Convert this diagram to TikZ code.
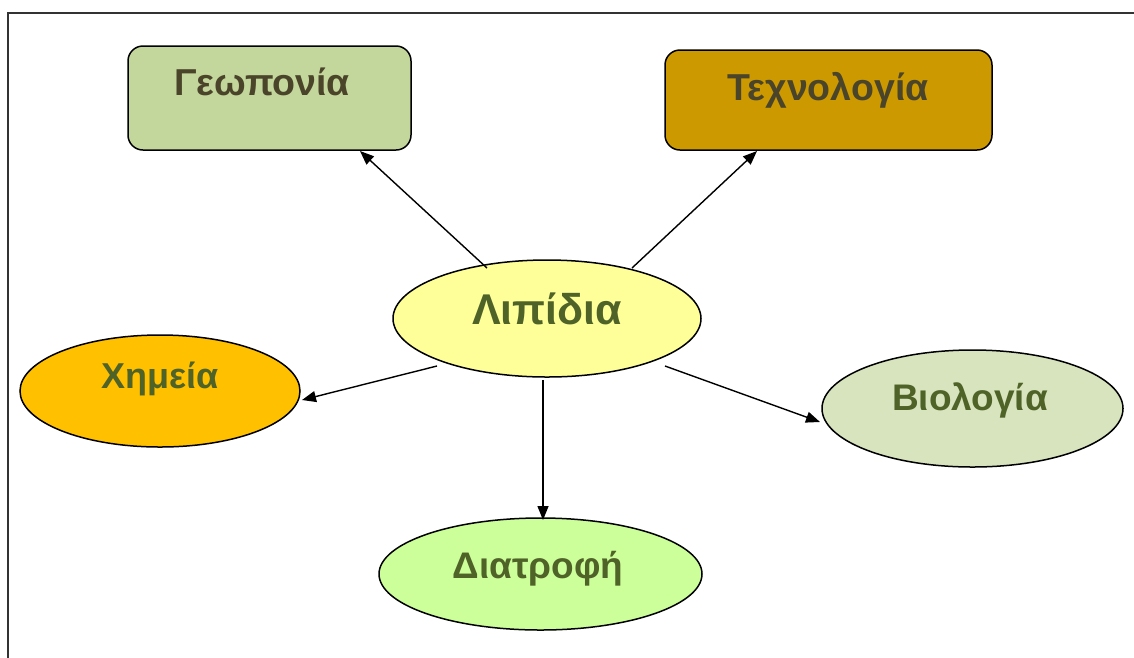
\documentclass[tikz,border=0pt]{standalone}
\usepackage{fontspec}
\setmainfont{Liberation Sans}
\usetikzlibrary{shapes.geometric,arrows.meta}
\definecolor{boxtext}{HTML}{4A452A}
\definecolor{olivetext}{HTML}{4F6228}
\definecolor{geofill}{HTML}{C3D69B}
\definecolor{techfill}{HTML}{CC9900}
\definecolor{lipfill}{HTML}{FFFF99}
\definecolor{chemfill}{HTML}{FFC000}
\definecolor{biofill}{HTML}{D7E4BD}
\definecolor{dietfill}{HTML}{CCFF99}
\definecolor{framecol}{HTML}{333333}
\tikzset{
  topicbox/.style={draw=black, line width=1.5pt, rounded corners=15pt, inner sep=0pt},
  topicoval/.style={draw=black, ellipse, line width=1.5pt, inner sep=0pt},
  boxlabel/.style={anchor=base, text=boxtext, font=\bfseries\fontsize{37.5}{42}\selectfont},
  ovallabel/.style={anchor=base, text=olivetext, font=\bfseries\fontsize{37}{42}\selectfont},
  arr/.style={line width=1.4pt, -{Triangle[length=14pt,width=11pt]}}
}
\begin{document}
\begin{tikzpicture}[x=1pt,y=-1pt]
  \useasboundingbox (0,0) rectangle (1134,657);
  % outer frame, open to the right and bottom
  \draw[framecol, line width=2pt] (7.5,700) -- (7.5,12.5) -- (1150,12.5);

  % topic boxes
  \node[topicbox, fill=geofill, minimum width=283pt, minimum height=104pt] (geo) at (269.5,98) {};
  \node[topicbox, fill=techfill, minimum width=327pt, minimum height=100pt] (tech) at (828.5,100) {};
  \node[boxlabel] (geot) at (262,95) {Γεωπονία};
  \node[boxlabel] (techt) at (828,100) {Τεχνολογία};

  % ovals
  \node[topicoval, fill=lipfill, minimum width=308pt, minimum height=117pt] (lip) at (547,318.5) {};
  \node[topicoval, fill=chemfill, minimum width=280pt, minimum height=112pt] (chem) at (160,391) {};
  \node[topicoval, fill=biofill, minimum width=301pt, minimum height=117pt] (bio) at (972.5,408.5) {};
  \node[topicoval, fill=dietfill, minimum width=323pt, minimum height=112pt] (diet) at (540.5,574) {};

  \node[ovallabel, font=\bfseries\fontsize{43}{48}\selectfont] (lipt) at (547,324) {Λιπίδια};
  \node[ovallabel, font=\bfseries\fontsize{36}{42}\selectfont] (chemt) at (160,388) {Χημεία};
  \node[ovallabel] (biot) at (970,410) {Βιολογία};
  \node[ovallabel] (dietd) at (538,578) {Διατροφή};

  % arrow start points on the central oval and end points on the targets
  \coordinate (s1) at (487,268);
  \coordinate (s2) at (632,268);
  \coordinate (s3) at (437,366);
  \coordinate (s4) at (543,380);
  \coordinate (s5) at (665,366);
  \coordinate (e1) at (360,151);
  \coordinate (e2) at (757,151);
  \coordinate (e3) at (302,400);
  \coordinate (e4) at (543,520);
  \coordinate (e5) at (820,422);

  \draw[arr] (s1) -- (e1);
  \draw[arr] (s2) -- (e2);
  \draw[arr] (s3) -- (e3);
  \draw[arr] (s4) -- (e4);
  \draw[arr] (s5) -- (e5);
\end{tikzpicture}
\end{document}
